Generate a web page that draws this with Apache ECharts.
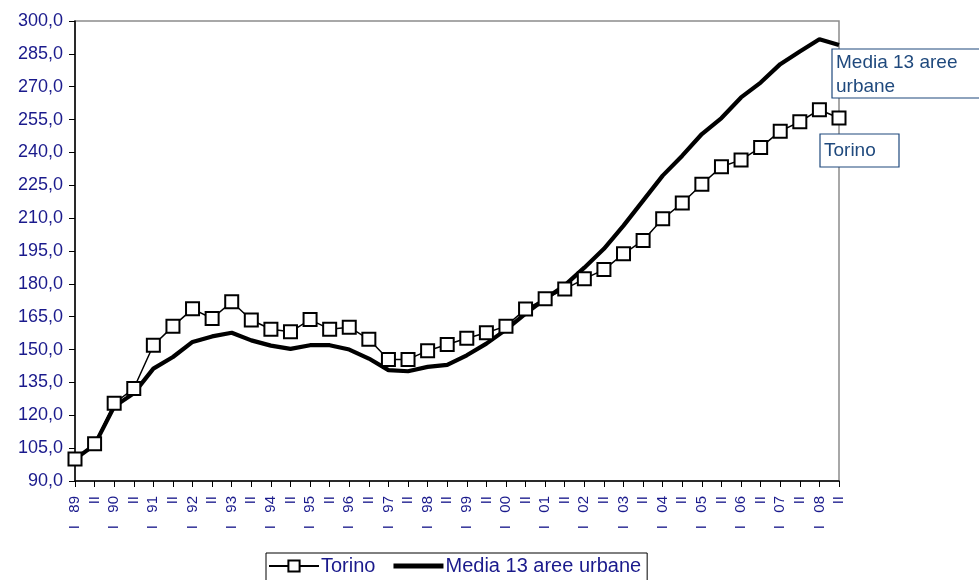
<!DOCTYPE html>
<html>
<head>
<meta charset="utf-8">
<script src="https://cdn.jsdelivr.net/npm/echarts@6/dist/echarts.min.js"></script>
<style>html,body{margin:0;padding:0;background:#fff}#c{width:979px;height:580px}</style>
</head>
<body>
<div id="c"></div>
<script>
const categories = ['I 89','II','I 90','II','I 91','II','I 92','II','I 93','II','I 94','II','I 95','II','I 96','II','I 97','II','I 98','II','I 99','II','I 00','II','I 01','II','I 02','II','I 03','II','I 04','II','I 05','II','I 06','II','I 07','II','I 08','II'];
const torino = [100, 107, 125.5, 132.2, 152, 160.6, 168.6, 164.2, 171.8, 163.5, 159.3, 158.1, 163.7, 159.3, 160.2, 154.7, 145.5, 145.5, 149.5, 152.3, 155.2, 157.7, 160.7, 168.5, 173.2, 177.6, 182.3, 186.5, 193.7, 199.8, 209.7, 216.9, 225.5, 233.5, 236.6, 242.3, 249.7, 254, 259.5, 255.7];
const media = [100, 106.5, 124, 130, 141.3, 146.6, 153.5, 156, 157.7, 154.2, 151.8, 150.3, 152, 152, 150, 145.9, 140.6, 140.1, 142.1, 143, 147.4, 152.7, 159.1, 166.4, 173.2, 179.3, 187.4, 196, 206.6, 218, 229.4, 238.5, 248.4, 255.7, 265.1, 271.9, 280.3, 286.1, 291.7, 289];
const seriesNames = ['Torino', 'Media 13 aree urbane'];
const annotationMedia = 'Media 13 aree\nurbane';
const annotationTorino = 'Torino';

const labelColor = '#1a1a8c';
const annColor = '#1f497d';
const chart = echarts.init(document.getElementById('c'), null, {renderer: 'canvas'});
chart.setOption({
  animation: false,
  backgroundColor: '#fff',
  grid: {left: 75, right: 140, top: 21, bottom: 99, show: true, borderColor: '#8c8c8c', borderWidth: 1.5, containLabel: false},
  xAxis: {
    type: 'category', data: categories, boundaryGap: false,
    axisLine: {lineStyle: {color: '#000', width: 1.5}},
    axisTick: {show: true, interval: 0, length: 6, lineStyle: {color: '#000', width: 1}},
    axisLabel: {interval: 0, rotate: 90, margin: 15, color: labelColor, fontFamily: 'Liberation Sans, Arial, sans-serif', fontSize: 15,
      formatter: v => v.replace(' ', '   ')},
    splitLine: {show: false}
  },
  yAxis: {
    type: 'value', min: 90, max: 300, interval: 15,
    axisLine: {show: true, lineStyle: {color: '#000', width: 1.5}},
    axisTick: {show: true, length: 6, lineStyle: {color: '#000'}},
    axisLabel: {margin: 12, color: labelColor, fontFamily: 'Liberation Sans, Arial, sans-serif', fontSize: 18,
      formatter: v => v.toFixed(1).replace('.', ',')},
    splitLine: {show: false}
  },
  legend: {
    data: [
      {name: seriesNames[0]},
      {name: seriesNames[1], icon: 'path://M0,0L40,0L40,4L0,4Z', itemStyle: {color: '#000', borderWidth: 0}}
    ],
    left: 266, top: 553, orient: 'horizontal',
    itemWidth: 50, itemHeight: 14, itemGap: 18,
    padding: [3, 6, 8, 2],
    borderColor: '#000', borderWidth: 1, backgroundColor: '#fff',
    textStyle: {color: labelColor, fontFamily: 'Liberation Sans, Arial, sans-serif', fontSize: 20, padding: [0, 0, 0, -3]}
  },
  series: [
    {
      name: seriesNames[1], type: 'line', data: media, symbol: 'none',
      lineStyle: {color: '#000', width: 4.2}, itemStyle: {color: '#000'}, z: 2
    },
    {
      name: seriesNames[0], type: 'line', data: torino, symbol: 'rect', symbolSize: 13, showSymbol: true,
      lineStyle: {color: '#000', width: 1.5},
      itemStyle: {color: '#fff', borderColor: '#000', borderWidth: 2}, z: 3
    }
  ],
  graphic: [
    {type: 'rect', shape: {x: 832, y: 49, width: 160, height: 49}, style: {fill: '#fff', stroke: annColor, lineWidth: 1.2}, z: 10},
    {type: 'text', x: 836, y: 51, style: {text: annotationMedia, fill: annColor, font: '19px "Liberation Sans", Arial, sans-serif', lineHeight: 24}, z: 11},
    {type: 'rect', shape: {x: 820, y: 134, width: 79, height: 33}, style: {fill: '#fff', stroke: annColor, lineWidth: 1.2}, z: 10},
    {type: 'text', x: 824, y: 139, style: {text: annotationTorino, fill: annColor, font: '19px "Liberation Sans", Arial, sans-serif', lineHeight: 24}, z: 11}
  ]
});
</script>
</body>
</html>
